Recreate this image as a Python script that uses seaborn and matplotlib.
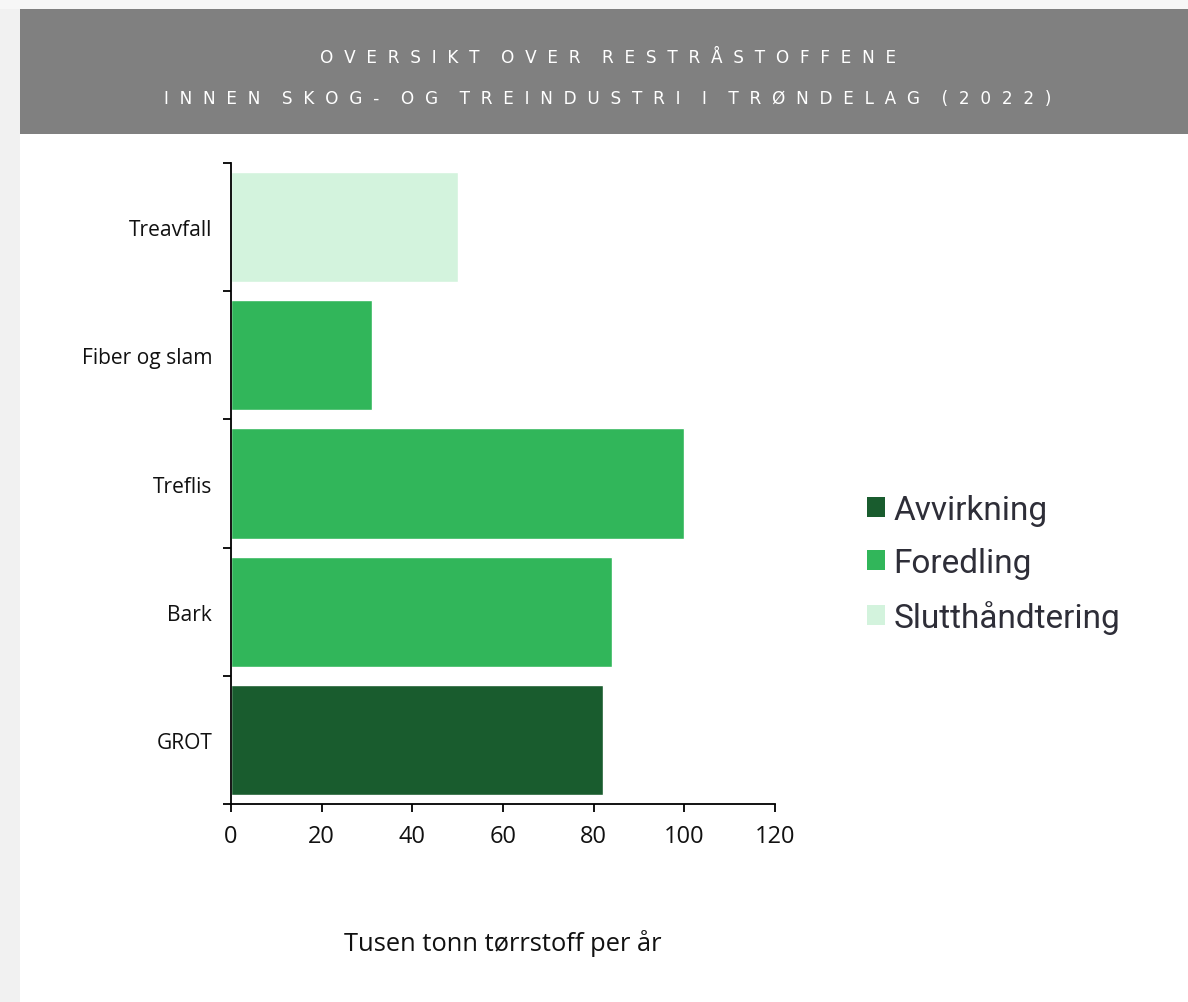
import matplotlib
matplotlib.use("Agg")
import matplotlib.pyplot as plt
from matplotlib.patches import Patch, Rectangle
import pandas as pd
import seaborn as sns

# Residual raw materials in the forest and wood industry, Trøndelag 2022
categories = ["Treavfall", "Fiber og slam", "Treflis", "Bark", "GROT"]
values = [50, 31, 100, 84, 82]
groups = ["Slutthåndtering", "Foredling", "Foredling", "Foredling", "Avvirkning"]

legend_order = ["Avvirkning", "Foredling", "Slutthåndtering"]
palette = {"Avvirkning": "#195c2e", "Foredling": "#31b65a", "Slutthåndtering": "#d3f3dd"}

x_ticks = [0, 20, 40, 60, 80, 100, 120]
title_lines = ["OVERSIKT OVER RESTRÅSTOFFENE",
               "INNEN SKOG- OG TREINDUSTRI I TRØNDELAG (2022)"]
x_label = "Tusen tonn tørrstoff per år"

df = pd.DataFrame({"kategori": categories, "verdi": values, "gruppe": groups})

sns.set_theme(style="white")
plt.rcParams["font.family"] = ["Open Sans", "DejaVu Sans"]

W, H = 1188, 1003
fig = plt.figure(figsize=(W / 100, H / 100), dpi=100)
fig.patch.set_facecolor("white")

# light frame around the card
fig.add_artist(Rectangle((0, 0), 20 / W, 1, transform=fig.transFigure,
                         facecolor="#f1f1f1", edgecolor="none", zorder=0))
fig.add_artist(Rectangle((0, 1 - 10 / H), 1, 10 / H, transform=fig.transFigure,
                         facecolor="#f7f7f7", edgecolor="none", zorder=0))
# header band
fig.add_artist(Rectangle((20 / W, 1 - 135 / H), 1 - 20 / W, 125 / H,
                         transform=fig.transFigure, facecolor="#808080",
                         edgecolor="none", zorder=1))


def spaced(text):
    # wide letter spacing for the header title
    return "    ".join("  ".join(word) for word in text.split(" "))


for line, ypix in zip(title_lines, [58, 99]):
    fig.text(608 / W, 1 - ypix / H, spaced(line), color="white",
             fontsize=12.2, ha="center", va="center",
             family=["DejaVu Sans"], zorder=2)

ax = fig.add_axes([231 / W, 1 - 805 / H, (775 - 231) / W, (805 - 164) / H])
sns.barplot(data=df, y="kategori", x="verdi", hue="gruppe", order=categories,
            hue_order=legend_order, palette=palette, dodge=False, width=0.86,
            orient="h", legend=False, ax=ax, saturation=1)

ax.set_xlim(0, 120)
ax.set_ylim(len(categories) - 0.5, -0.5)
ax.set_xticks(x_ticks)
ax.set_xticklabels([str(t) for t in x_ticks])

# category labels at bar centres, tick marks on category boundaries
ax.set_yticks(range(len(categories)))
ax.set_yticklabels(categories)
ax.set_yticks([i - 0.5 for i in range(len(categories) + 1)], minor=True)
ax.tick_params(axis="y", which="major", length=0, pad=13.5, labelsize=15.1,
               labelcolor="#111111")
ax.tick_params(axis="y", which="minor", length=6, width=1.3, color="black",
               direction="out", left=True)
ax.tick_params(axis="x", which="major", length=6, width=1.3, color="black",
               direction="out", bottom=True, labelsize=17, pad=8.5,
               labelcolor="#111111")

for side in ["top", "right"]:
    ax.spines[side].set_visible(False)
for side in ["left", "bottom"]:
    ax.spines[side].set_color("black")
    ax.spines[side].set_linewidth(1.3)

ax.set_ylabel("")
ax.set_xlabel(x_label, fontsize=18.4, color="#111111", labelpad=58)

handles = [Patch(facecolor=palette[g], edgecolor="none", label=g) for g in legend_order]
fig.legend(handles=handles, loc="center left", bbox_to_anchor=(854 / W, 1 - 565 / H),
           frameon=False, handlelength=0.54, handleheight=0.54,
           handletextpad=0.24, labelspacing=0.63, borderaxespad=0,
           prop={"family": ["Roboto", "DejaVu Sans"], "size": 24},
           labelcolor="#2e2e38")

fig.savefig("out.png", dpi=100, facecolor=fig.get_facecolor())
